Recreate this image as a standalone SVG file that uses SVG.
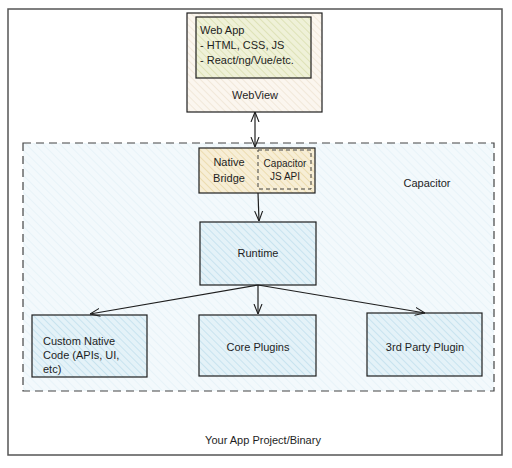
<svg xmlns="http://www.w3.org/2000/svg" width="512" height="468" viewBox="0 0 512 468">
<defs>
<pattern id="hCap" width="6" height="6" patternUnits="userSpaceOnUse" patternTransform="rotate(-45)">
<rect width="6" height="6" fill="#f3f9fc"/><line x1="0" y1="0" x2="0" y2="6" stroke="#e2eff6" stroke-width="1.2"/></pattern>
<pattern id="hBlue" width="5" height="5" patternUnits="userSpaceOnUse" patternTransform="rotate(-45)">
<rect width="5" height="5" fill="#e4f2f8"/><line x1="0" y1="0" x2="0" y2="5" stroke="#b9dcea" stroke-width="1.3"/></pattern>
<pattern id="hTan" width="5" height="5" patternUnits="userSpaceOnUse" patternTransform="rotate(-45)">
<rect width="5" height="5" fill="#f7eed6"/><line x1="0" y1="0" x2="0" y2="5" stroke="#e6d29c" stroke-width="1.3"/></pattern>
<pattern id="hBeige" width="5" height="5" patternUnits="userSpaceOnUse" patternTransform="rotate(-45)">
<rect width="5" height="5" fill="#fbf6ef"/><line x1="0" y1="0" x2="0" y2="5" stroke="#ebdfcc" stroke-width="1.2"/></pattern>
<pattern id="hGreen" width="5" height="5" patternUnits="userSpaceOnUse" patternTransform="rotate(-45)">
<rect width="5" height="5" fill="#eff1d8"/><line x1="0" y1="0" x2="0" y2="5" stroke="#d6daa6" stroke-width="1.3"/></pattern>
<marker id="ah" viewBox="0 0 10 10" refX="10" refY="5" markerWidth="10" markerHeight="10" orient="auto-start-reverse" markerUnits="userSpaceOnUse">
<path d="M0,1 L10,5 L0,9" fill="none" stroke="#1e1e1e" stroke-width="1.1"/></marker>
</defs>
<style>
text{font-family:"Liberation Sans","DejaVu Sans",sans-serif;font-size:11px;fill:#1e1e1e}
.c{text-anchor:middle}
.box{stroke:#1e1e1e;stroke-width:1.2}
.conn{stroke:#1e1e1e;stroke-width:1.2;fill:none}
</style>
<rect width="512" height="468" fill="#ffffff"/>
<g id="app-project">
<rect x="8" y="9" width="494" height="446" fill="none" stroke="#555" stroke-width="1.5"/>
<text class="c" x="263" y="444">Your App Project/Binary</text>
</g>
<g id="capacitor">
<rect x="23" y="143" width="471" height="248" fill="url(#hCap)" stroke="#444" stroke-width="1.2" stroke-dasharray="8 5"/>
<text class="c" x="427" y="187">Capacitor</text>
</g>
<g id="webview">
<rect class="box" x="187" y="13" width="135" height="99" fill="url(#hBeige)" stroke="#666"/>
<text class="c" x="255" y="99">WebView</text>
</g>
<g id="webapp">
<rect class="box" x="196" y="17" width="115" height="61" fill="url(#hGreen)"/>
<text x="200" y="34">Web App</text>
<text x="200" y="49">- HTML, CSS, JS</text>
<text x="200" y="64">- React/ng/Vue/etc.</text>
</g>
<g id="native-bridge">
<rect class="box" x="199" y="148" width="116" height="45" fill="url(#hTan)"/>
<text class="c" x="229" y="166">Native</text>
<text class="c" x="229" y="182">Bridge</text>
</g>
<g id="capacitor-js-api">
<rect x="258" y="150" width="53" height="39" fill="none" stroke="#444" stroke-width="1" stroke-dasharray="4 3"/>
<text class="c" x="285" y="167" style="font-size:10px">Capacitor</text>
<text class="c" x="285" y="180" style="font-size:10px">JS API</text>
</g>
<g id="runtime">
<rect class="box" x="200" y="222" width="116" height="63" fill="url(#hBlue)"/>
<text class="c" x="258" y="257">Runtime</text>
</g>
<g id="custom-native">
<rect class="box" x="32" y="315" width="115" height="62" fill="url(#hBlue)"/>
<text x="43" y="345">Custom Native</text>
<text x="43" y="359">Code (APIs, UI,</text>
<text x="43" y="373">etc)</text>
</g>
<g id="core-plugins">
<rect class="box" x="199" y="315" width="117" height="61" fill="url(#hBlue)"/>
<text class="c" x="258" y="351">Core Plugins</text>
</g>
<g id="third-party">
<rect class="box" x="367" y="313" width="115" height="63" fill="url(#hBlue)"/>
<text class="c" x="425" y="351">3rd Party Plugin</text>
</g>
<g id="connectors">
<line class="conn" x1="255" y1="112" x2="255" y2="147" marker-start="url(#ah)" marker-end="url(#ah)"/>
<line class="conn" x1="258" y1="193" x2="259" y2="221" marker-end="url(#ah)"/>
<line class="conn" x1="258" y1="285" x2="90" y2="314" marker-end="url(#ah)"/>
<line class="conn" x1="258" y1="285" x2="258" y2="314" marker-end="url(#ah)"/>
<line class="conn" x1="258" y1="285" x2="425" y2="313" marker-end="url(#ah)"/>
</g>
</svg>
